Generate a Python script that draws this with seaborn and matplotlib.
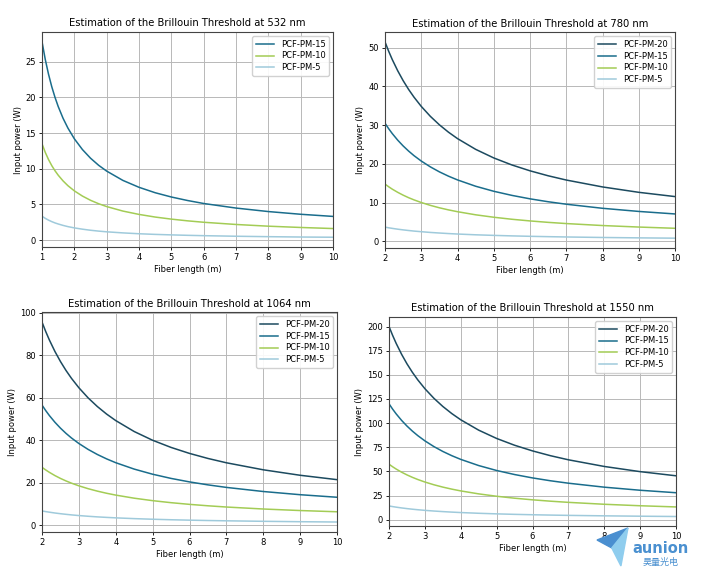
import seaborn as sns
import numpy as np
import matplotlib.pyplot as plt
import pandas as pd

len_532 = [1, 1.1, 1.2, 1.3, 1.4, 1.5, 1.65, 1.8, 2, 2.25, 2.5, 2.75, 3, 3.5, 4, 4.5,
           5, 5.5, 6, 7, 8, 9, 10]
len_long = [2, 2.1, 2.2, 2.35, 2.5, 2.65, 2.8, 3, 3.25, 3.5, 3.75, 4, 4.5, 5, 5.5,
            6, 6.5, 7, 8, 9, 10]

# 532 nm
p532_pm15 = [27.8, 25.33, 23.27, 21.52, 20.03, 18.73, 17.08, 15.71, 14.2, 12.69, 11.48, 10.49,
             9.67, 8.37, 7.4, 6.64, 6.04, 5.55, 5.13, 4.49, 4.0, 3.62, 3.32]
p532_pm10 = [13.5, 12.3, 11.3, 10.45, 9.73, 9.1, 8.3, 7.63, 6.9, 6.17, 5.58, 5.1,
             4.7, 4.07, 3.6, 3.23, 2.94, 2.7, 2.5, 2.19, 1.95, 1.77, 1.62]
p532_pm5 = [3.35, 3.05, 2.8, 2.59, 2.41, 2.26, 2.06, 1.89, 1.71, 1.53, 1.38, 1.26,
            1.16, 1.01, 0.89, 0.8, 0.73, 0.67, 0.62, 0.54, 0.48, 0.43, 0.4]

# 780 nm
p780_pm20 = [51.48, 49.1, 46.94, 44.05, 41.5, 39.24, 37.23, 34.85, 32.29, 30.1, 28.2, 26.54,
             23.77, 21.55, 19.74, 18.23, 16.95, 15.85, 14.07, 12.68, 11.58]
p780_pm15 = [30.5, 29.11, 27.84, 26.14, 24.65, 23.33, 22.14, 20.75, 19.25, 17.96, 16.85, 15.88,
             14.25, 12.95, 11.89, 11.0, 10.25, 9.61, 8.56, 7.75, 7.1]
p780_pm10 = [14.8, 14.12, 13.5, 12.68, 11.95, 11.3, 10.73, 10.05, 9.32, 8.69, 8.15, 7.68,
             6.88, 6.25, 5.73, 5.3, 4.93, 4.62, 4.11, 3.72, 3.4]
p780_pm5 = [3.7, 3.53, 3.38, 3.17, 2.99, 2.83, 2.68, 2.52, 2.33, 2.18, 2.04, 1.92,
            1.72, 1.57, 1.44, 1.33, 1.24, 1.16, 1.03, 0.93, 0.85]

# 1064 nm
p1064_pm20 = [95.5, 91.1, 87.09, 81.72, 77.0, 72.81, 69.07, 64.67, 59.92, 55.86, 52.33, 49.25,
              44.11, 40.0, 36.64, 33.83, 31.46, 29.43, 26.13, 23.56, 21.5]
p1064_pm15 = [56.53, 53.95, 51.6, 48.46, 45.7, 43.25, 41.06, 38.48, 35.71, 33.33, 31.27, 29.46,
              26.46, 24.05, 22.08, 20.44, 19.05, 17.86, 15.93, 14.43, 13.23]
p1064_pm10 = [27.3, 26.06, 24.93, 23.41, 22.08, 20.9, 19.84, 18.6, 17.26, 16.11, 15.11, 14.24,
              12.79, 11.63, 10.68, 9.89, 9.22, 8.64, 7.71, 6.99, 6.41]
p1064_pm5 = [6.8, 6.49, 6.21, 5.83, 5.5, 5.21, 4.94, 4.63, 4.3, 4.01, 3.77, 3.55,
             3.19, 2.9, 2.66, 2.47, 2.3, 2.16, 1.93, 1.74, 1.6]

# 1550 nm
p1550_pm20 = [200.0, 190.83, 182.47, 171.26, 161.4, 152.65, 144.85, 135.65, 125.75, 117.26, 109.9,
              103.46, 92.73, 84.15, 77.13, 71.28, 66.32, 62.08, 55.18, 49.82, 45.53]
p1550_pm15 = [120.0, 114.52, 109.55, 102.87, 97.0, 91.79, 87.14, 81.67, 75.77, 70.71, 66.33,
              62.5, 56.11, 51.0, 46.82, 43.33, 40.38, 37.86, 33.75, 30.56, 28.0]
p1550_pm10 = [57.5, 54.87, 52.48, 49.27, 46.45, 43.95, 41.71, 39.08, 36.25, 33.82, 31.72,
              29.88, 26.81, 24.35, 22.34, 20.67, 19.25, 18.04, 16.06, 14.53, 13.3]
p1550_pm5 = [14.31, 13.66, 13.07, 12.28, 11.58, 10.96, 10.41, 9.76, 9.06, 8.47, 7.95,
             7.49, 6.74, 6.13, 5.63, 5.22, 4.87, 4.57, 4.09, 3.71, 3.4]

colors = {"PCF-PM-20": "#1c4a5f", "PCF-PM-15": "#1a6d8c",
          "PCF-PM-10": "#a3cc55", "PCF-PM-5": "#9fcadb"}

panels = [
    ("532", len_532, {"PCF-PM-15": p532_pm15, "PCF-PM-10": p532_pm10, "PCF-PM-5": p532_pm5}, [1, 10]),
    ("780", len_long, {"PCF-PM-20": p780_pm20, "PCF-PM-15": p780_pm15,
                       "PCF-PM-10": p780_pm10, "PCF-PM-5": p780_pm5}, [2, 10]),
    ("1064", len_long, {"PCF-PM-20": p1064_pm20, "PCF-PM-15": p1064_pm15,
                        "PCF-PM-10": p1064_pm10, "PCF-PM-5": p1064_pm5}, [2, 10]),
    ("1550", len_long, {"PCF-PM-20": p1550_pm20, "PCF-PM-15": p1550_pm15,
                        "PCF-PM-10": p1550_pm10, "PCF-PM-5": p1550_pm5}, [2, 10]),
]

axes_pos = [
    [0.0597, 0.5674, 0.4134, 0.3765],
    [0.5469, 0.5657, 0.4120, 0.3780],
    [0.0597, 0.0683, 0.4190, 0.3850],
    [0.5526, 0.0788, 0.4077, 0.3660],
]


def create_diagramm():
    fig = plt.figure(figsize=(7.04, 5.71), dpi=100)

    for (wl, lengths, series, xlim), pos in zip(panels, axes_pos):
        ax = fig.add_axes(pos)
        rows = []
        for name, vals in series.items():
            for x, y in zip(lengths, vals):
                rows.append({"Fiber": name, "L": x, "P": y})
        df = pd.DataFrame(rows)
        sns.lineplot(data=df, x="L", y="P", hue="Fiber", palette=colors,
                     hue_order=list(series.keys()), ax=ax, linewidth=1.1, sort=True)
        ax.set_xlim(xlim)
        ax.set_xticks(range(xlim[0], 11))
        ax.grid(True, color="#b8b8b8", linewidth=0.7)
        ax.set_axisbelow(True)
        ax.set_title(f"Estimation of the Brillouin Threshold at {wl} nm", fontsize=7.2, pad=4)
        ax.set_xlabel("Fiber length (m)", fontsize=6, labelpad=2)
        ax.set_ylabel("Input power (W)", fontsize=6, labelpad=2)
        ax.tick_params(labelsize=6, length=2.5, width=0.6, pad=2)
        for s in ax.spines.values():
            s.set_color("#444444")
            s.set_linewidth(0.8)
        ax.legend(loc="upper right", fontsize=6, title=None, framealpha=0.9,
                  handlelength=2.2, borderpad=0.4, labelspacing=0.35)

    # watermark logo
    fig.patches.append(plt.Polygon([[0.848, 0.0543], [0.892, 0.0753], [0.869, 0.0403]],
                                   closed=True, color="#4a8fd0", transform=fig.transFigure,
                                   figure=fig))
    fig.patches.append(plt.Polygon([[0.869, 0.0403], [0.892, 0.0753], [0.882, 0.0088]],
                                   closed=True, color="#8fcdee", transform=fig.transFigure,
                                   figure=fig))
    fig.text(0.938, 0.040, "aunion", color="#4a90d0", fontsize=10.5, fontweight="bold",
             ha="center", va="center")
    fig.text(0.939, 0.015, "昊量光电", color="#4a90d0", fontsize=6.5, ha="center", va="center",
             family=["Noto Sans CJK SC", "DejaVu Sans"])

    fig.savefig("out.png", dpi=100)


if __name__ == '__main__':
    create_diagramm()
